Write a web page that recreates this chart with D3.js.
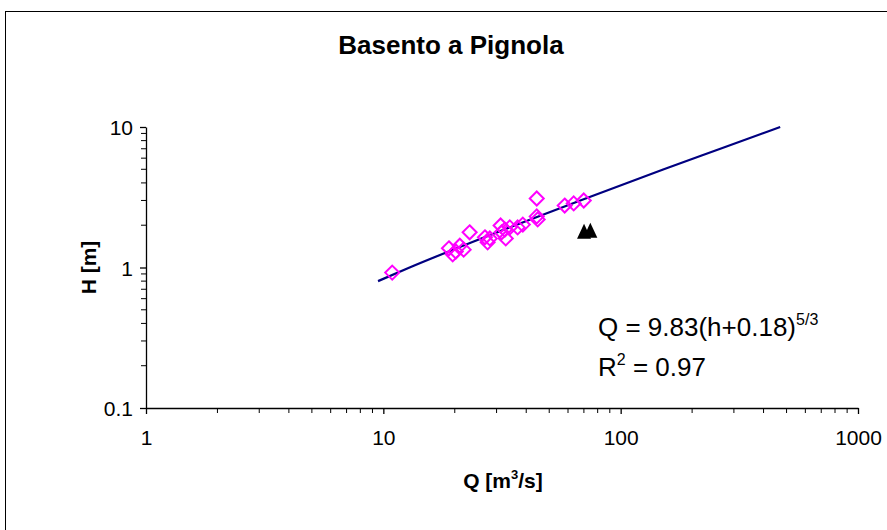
<!DOCTYPE html>
<html>
<head>
<meta charset="utf-8">
<script src="https://cdn.jsdelivr.net/npm/d3@7"></script>
<style>
  html, body { margin: 0; padding: 0; background: #fff; }
  svg { display: block; font-family: "Liberation Sans", Arial, sans-serif; }
</style>
</head>
<body>
<div id="chart"></div>
<script>
// measured points (Q in m3/s, H in m)
const obsQ = [10.9, 18.9, 19.6, 20.2, 21.0, 21.8, 23.1, 26.8, 27.5, 28.1, 31.2, 31.5, 32.8, 34.1, 32.5, 36.8, 38.7, 44.3, 44.3, 44.7, 58.1, 63.4, 69.9];
const obsH = [0.92, 1.37, 1.24, 1.30, 1.43, 1.34, 1.78, 1.64, 1.51, 1.61, 1.99, 1.78, 1.61, 1.93, 1.86, 1.93, 2.02, 3.10, 2.31, 2.20, 2.76, 2.86, 3.00];

// other points (black triangles)
const triQ = [70.1, 74.5];
const triH = [1.80, 1.83];

// fitted rating curve
const fitQ = [9.5, 12.9, 23.3, 36.0, 67.6, 152, 263, 470];
const fitH = [0.8, 1.0, 1.5, 2.0, 3.0, 5.0, 7.0, 10.0];

const xTicks = [1, 10, 100, 1000];
const yTicks = [0.1, 1, 10];

const width = 887, height = 530;
const plot = { left: 146, right: 858, top: 127, bottom: 408 };

const svg = d3.select("#chart").append("svg")
  .attr("width", width)
  .attr("height", height);

// outer chart frame (runs off the right/bottom edges)
svg.append("rect")
  .attr("x", 5.5).attr("y", 11.5)
  .attr("width", 900).attr("height", 540)
  .attr("fill", "none")
  .attr("stroke", "#000")
  .attr("stroke-width", 1);

const x = d3.scaleLog().domain([1, 1000]).range([plot.left, plot.right]);
const y = d3.scaleLog().domain([0.1, 10]).range([plot.bottom, plot.top]);

// minor ticks 2..9 each decade
const minorX = [], minorY = [];
[1, 10, 100].forEach(d => { for (let k = 2; k <= 9; k++) minorX.push(d * k); });
[0.1, 1].forEach(d => { for (let k = 2; k <= 9; k++) minorY.push(+(d * k).toFixed(2)); });

// ---- axes ----
const xAxis = svg.append("g")
  .attr("transform", `translate(0,${plot.bottom})`)
  .call(d3.axisBottom(x).tickValues(xTicks).tickSize(6).tickSizeOuter(0).tickFormat(d3.format("")));
xAxis.append("g").selectAll("line")
  .data(minorX).enter().append("line")
  .attr("x1", d => x(d)).attr("x2", d => x(d))
  .attr("y1", 0).attr("y2", 5)
  .attr("stroke", "#000");

const yAxis = svg.append("g")
  .attr("transform", `translate(${plot.left},0)`)
  .call(d3.axisLeft(y).tickValues(yTicks).tickSize(6).tickSizeOuter(0).tickFormat(d => d3.format("")(d)));
yAxis.append("g").selectAll("line")
  .data(minorY).enter().append("line")
  .attr("y1", d => y(d)).attr("y2", d => y(d))
  .attr("x1", 0).attr("x2", -5)
  .attr("stroke", "#000");

[xAxis, yAxis].forEach(a => {
  a.select(".domain").attr("stroke", "#000").attr("stroke-width", 1.3);
  a.selectAll(".tick line").attr("stroke", "#000").attr("stroke-width", 1.3);
  a.selectAll(".tick text")
    .attr("fill", "#000")
    .attr("font-size", 21)
    .attr("font-family", "Liberation Sans, Arial, sans-serif");
});
xAxis.selectAll(".tick text").attr("dy", 28);
yAxis.selectAll(".tick text").attr("dx", -4).attr("dy", "0.36em");

// ---- fitted line ----
const fit = fitQ.map((q, i) => ({ q, h: fitH[i] }));
svg.append("path")
  .datum(fit)
  .attr("fill", "none")
  .attr("stroke", "#000080")
  .attr("stroke-width", 2.2)
  .attr("d", d3.line().x(d => x(d.q)).y(d => y(d.h)).curve(d3.curveMonotoneX));

// ---- observed diamonds ----
const obs = obsQ.map((q, i) => ({ q, h: obsH[i] }));
const dsz = 7;
svg.append("g").selectAll("path")
  .data(obs).enter().append("path")
  .attr("transform", d => `translate(${x(d.q)},${y(d.h)})`)
  .attr("d", `M0,${-dsz}L${dsz},0L0,${dsz}L${-dsz},0Z`)
  .attr("fill", "none")
  .attr("stroke", "#ff00ff")
  .attr("stroke-width", 2);

// ---- triangles ----
const tri = triQ.map((q, i) => ({ q, h: triH[i] }));
svg.append("g").selectAll("path")
  .data(tri).enter().append("path")
  .attr("transform", d => `translate(${x(d.q)},${y(d.h)})`)
  .attr("d", "M0,-8L7,7L-7,7Z")
  .attr("fill", "#000");

// ---- texts ----
svg.append("text")
  .attr("x", 451).attr("y", 54)
  .attr("text-anchor", "middle")
  .attr("font-size", 26)
  .attr("font-weight", "bold")
  .text("Basento a Pignola");

svg.append("text")
  .attr("transform", `translate(96,${(plot.top + plot.bottom) / 2}) rotate(-90)`)
  .attr("text-anchor", "middle")
  .attr("font-size", 21)
  .attr("font-weight", "bold")
  .text("H [m]");

const xl = svg.append("text")
  .attr("x", 503).attr("y", 488)
  .attr("text-anchor", "middle")
  .attr("font-size", 21)
  .attr("font-weight", "bold");
xl.append("tspan").text("Q [m");
xl.append("tspan").attr("dy", -9).attr("font-size", 13).text("3");
xl.append("tspan").attr("dy", 9).text("/s]");

const eq = svg.append("text")
  .attr("x", 598).attr("y", 336)
  .attr("font-size", 26);
eq.append("tspan").text("Q = 9.83(h+0.18)");
eq.append("tspan").attr("dy", -11).attr("font-size", 16).text("5/3");

const r2 = svg.append("text")
  .attr("x", 598).attr("y", 376)
  .attr("font-size", 26);
r2.append("tspan").text("R");
r2.append("tspan").attr("dy", -11).attr("font-size", 16).text("2");
r2.append("tspan").attr("dy", 11).text(" = 0.97");
</script>
</body>
</html>
